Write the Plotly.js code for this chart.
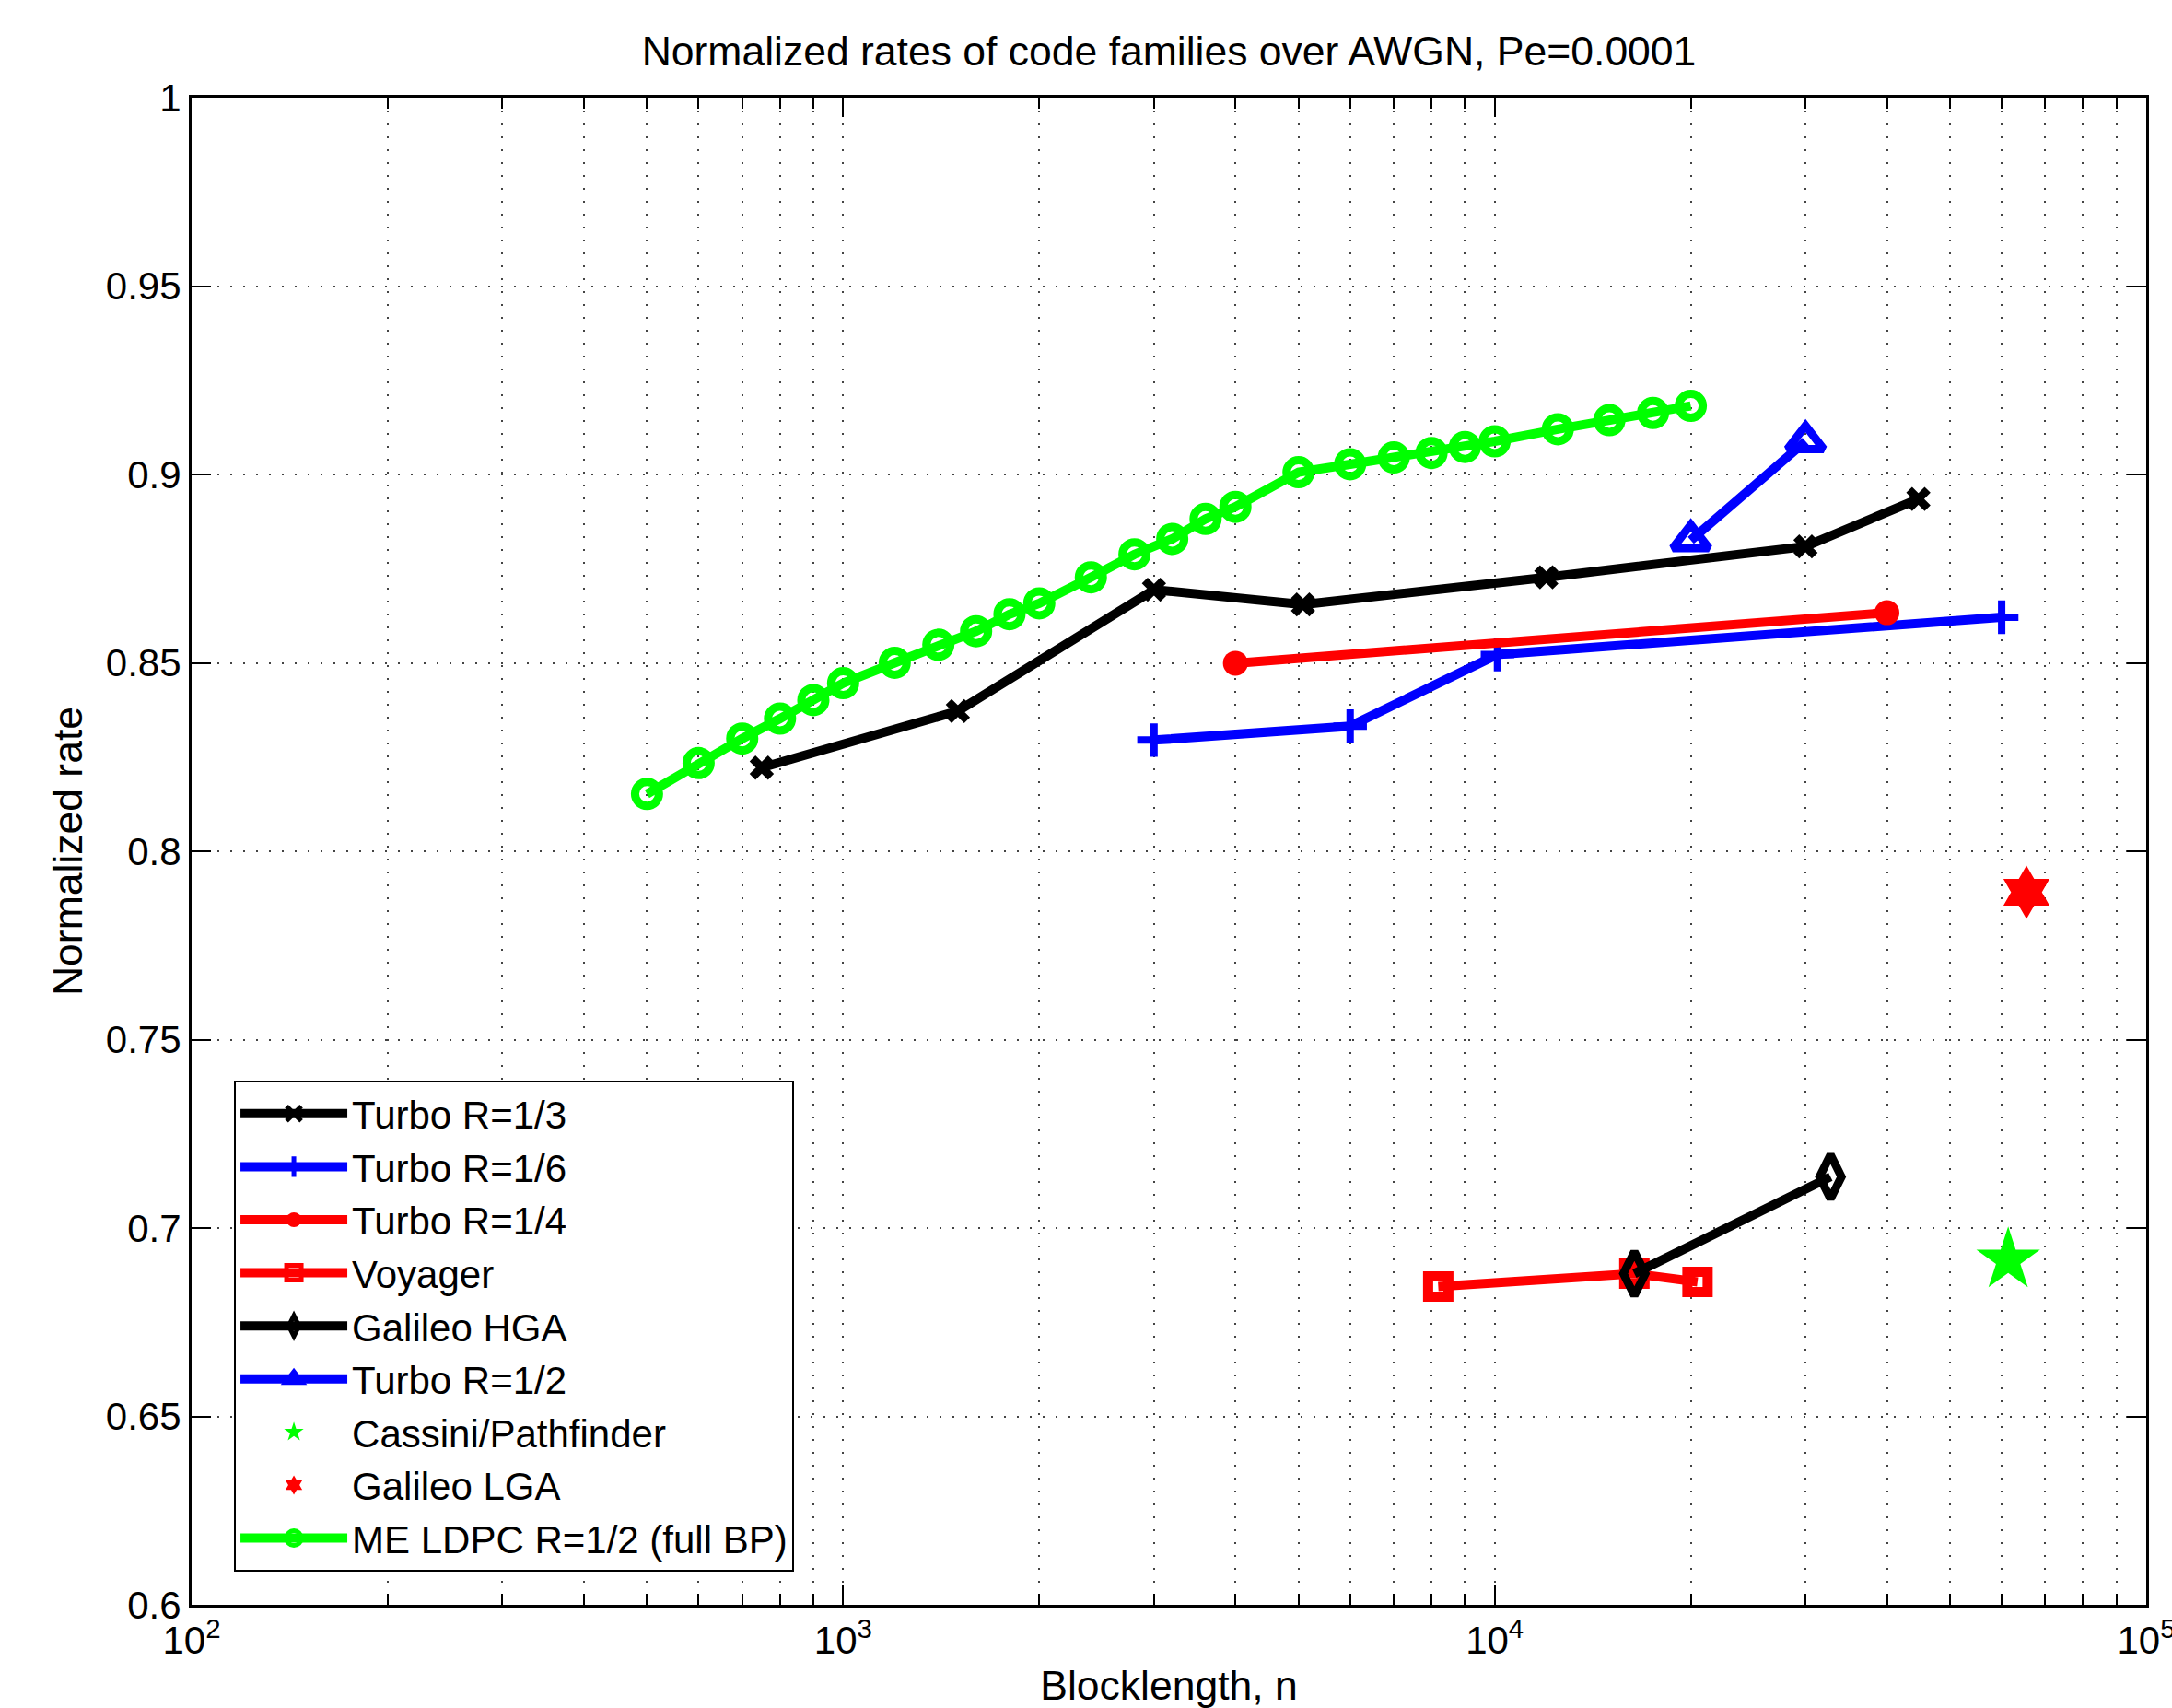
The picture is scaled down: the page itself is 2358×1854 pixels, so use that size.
<!DOCTYPE html>
<html>
<head>
<meta charset="utf-8">
<script src="https://cdn.plot.ly/plotly-3.0.1.min.js"></script>
<style>html,body{margin:0;padding:0;background:#fff;}#chart{width:2358px;height:1854px;}</style>
</head>
<body>
<div id="chart"></div>
<script>
// ---- data ----
const seriesNames = ["Turbo R=1/3","Turbo R=1/6","Turbo R=1/4","Voyager","Galileo HGA","Turbo R=1/2","Cassini/Pathfinder","Galileo LGA","ME LDPC R=1/2 (full BP)"];

const turbo13N = [750, 1500, 3000, 5080, 12000, 30000, 44700];
const turbo13R = [0.8222, 0.8372, 0.8694, 0.8655, 0.8727, 0.8809, 0.8935];

const turbo16N = [3000, 6000, 10100, 60000];
const turbo16R = [0.8295, 0.8332, 0.8522, 0.8621];

const turbo14N = [4000, 40000];
const turbo14R = [0.8499, 0.8633];

const voyagerN = [8192, 16384, 20480];
const voyagerR = [0.6845, 0.6879, 0.6857];

const galileoHgaN = [16384, 32768];
const galileoHgaR = [0.6879, 0.7136];

const turbo12N = [20000, 30000];
const turbo12R = [0.8825, 0.9088];

const cassiniN = [61400];
const cassiniR = [0.6915];

const galileoLgaN = [65500];
const galileoLgaR = [0.7891];

const ldpcN = [500, 600, 700, 800, 900, 1000, 1200, 1400, 1600, 1800, 2000, 2400, 2800, 3200, 3600, 4000, 5000, 6000, 7000, 8000, 9000, 10000, 12500, 15000, 17500, 20000];
const ldpcR = [0.8152, 0.8234, 0.8299, 0.8352, 0.8401, 0.8446, 0.8500, 0.8548, 0.8584, 0.8629, 0.8658, 0.8727, 0.8788, 0.8829, 0.8882, 0.8914, 0.9006, 0.9027, 0.9045, 0.9057, 0.9073, 0.9088, 0.9120, 0.9144, 0.9163, 0.9182];

const xTickVals = [100, 1000, 10000, 100000];
const xTickText = ["10<sup>2</sup>", "10<sup>3</sup>", "10<sup>4</sup>", "10<sup>5</sup>"];
const xMinorVals = [200,300,400,500,600,700,800,900,2000,3000,4000,5000,6000,7000,8000,9000,20000,30000,40000,50000,60000,70000,80000,90000];

const FONT = "Liberation Sans, Arial, Helvetica, sans-serif";
const LW = 10;

function series(name, x, y, color, symbol, size, mlw, mode) {
  return {
    type: "scatter", mode: mode || "lines+markers", name: name, x: x, y: y,
    line: { color: color, width: LW },
    marker: {
      symbol: symbol, size: size, color: color,
      line: { color: color, width: mlw }
    },
    cliponaxis: false
  };
}

const traces = [
  series(seriesNames[0], turbo13N, turbo13R, "#000000", "x-thin", 20, 9),
  series(seriesNames[1], turbo16N, turbo16R, "#0000ff", "cross-thin", 26, 8),
  series(seriesNames[2], turbo14N, turbo14R, "#ff0000", "circle", 27, 0),
  series(seriesNames[3], voyagerN, voyagerR, "#ff0000", "square-open", 22, 11),
  series(seriesNames[4], galileoHgaN, galileoHgaR, "#000000", "diamond-tall-open", 34, 9),
  series(seriesNames[5], turbo12N, turbo12R, "#0000ff", "triangle-up-open", 34, 9),
  series(seriesNames[6], cassiniN, cassiniR, "#00ff00", "star", 52, 0, "markers"),
  series(seriesNames[7], galileoLgaN, galileoLgaR, "#ff0000", "hexagram", 44, 0, "markers"),
  series(seriesNames[8], ldpcN, ldpcR, "#00ff00", "circle-open", 26, 9)
];

const gridDash = "2px,12px";
const gridColor = "#444444";
const labelFont = { family: FONT, size: 44.5, color: "#000" };

const layout = {
  width: 2358, height: 1854,
  paper_bgcolor: "#ffffff", plot_bgcolor: "#ffffff",
  margin: { l: 208, r: 28, t: 106, b: 112 },
  font: { family: FONT, size: 42, color: "#000000" },
  title: {
    text: "Normalized rates of code families over AWGN, Pe=0.0001",
    font: labelFont,
    x: 0.5, xanchor: "center", xref: "paper",
    y: 0.970, yanchor: "middle", yref: "container"
  },
  showlegend: true,
  legend: {
    x: 0.0217, y: 0.022, xanchor: "left", yanchor: "bottom",
    bgcolor: "#ffffff", bordercolor: "#000000", borderwidth: 2,
    font: { family: FONT, size: 42, color: "#000" },
    tracegroupgap: 0, itemwidth: 116
  },
  xaxis: {
    type: "log", range: [2, 5],
    tickmode: "array", tickvals: xTickVals, ticktext: xTickText,
    ticklabeloverflow: "allow",
    ticks: "inside", ticklen: 21, tickwidth: 2, tickcolor: "#000",
    showline: true, linecolor: "#000", linewidth: 3, mirror: "ticks",
    showgrid: true, gridcolor: gridColor, gridwidth: 2, griddash: gridDash,
    zeroline: false,
    tickfont: { family: FONT, size: 42, color: "#000" },
    minor: {
      tickmode: "array", tickvals: xMinorVals,
      ticks: "inside", ticklen: 12, tickwidth: 2, tickcolor: "#000",
      showgrid: true, gridcolor: gridColor, gridwidth: 2, griddash: gridDash
    },
    title: { text: "Blocklength, n", font: labelFont, standoff: 36 }
  },
  yaxis: {
    range: [0.6, 1], tick0: 0.6, dtick: 0.05, tickmode: "linear",
    ticks: "inside", ticklen: 21, tickwidth: 2, tickcolor: "#000",
    showline: true, linecolor: "#000", linewidth: 3, mirror: "ticks",
    showgrid: true, gridcolor: gridColor, gridwidth: 2, griddash: gridDash,
    zeroline: false,
    tickfont: { family: FONT, size: 42, color: "#000" },
    title: { text: "Normalized rate", font: labelFont, standoff: 12 }
  }
};

Plotly.newPlot("chart", traces, layout, { staticPlot: true, displayModeBar: false });
</script>
</body>
</html>
